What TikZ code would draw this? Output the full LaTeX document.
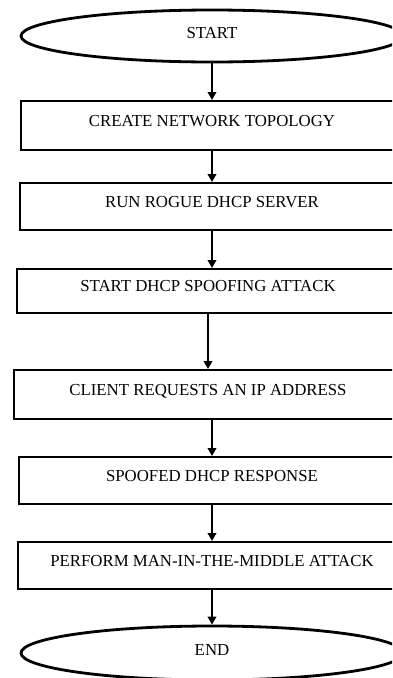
\documentclass[tikz,border=0pt]{standalone}
\usepackage{fontspec}
\setmainfont{Liberation Serif}
\usetikzlibrary{arrows.meta,shapes.geometric}
\begin{document}
\begin{tikzpicture}[x=1pt,y=-1pt,
  txt/.style={font=\fontsize{16.8}{19}\selectfont},
  stepbox/.style={txt,draw,line width=2pt,rectangle,inner sep=0pt,text height=7pt,text depth=5.8pt},
  term/.style={txt,draw,ellipse,line width=2.8pt,inner sep=0pt,text height=8pt,text depth=3.6pt},
  arr/.style={line width=2pt,-{Triangle[length=8pt,width=8.5pt]}}]
\useasboundingbox (0,0) rectangle (392,678);
\clip (0,0) rectangle (392,678);
\fill[white] (0,0) rectangle (392,678);
\node[term,minimum width=382pt,minimum height=52pt] (start) at (212,36) {START};
\node[stepbox,minimum width=382pt,minimum height=49pt] (b1) at (212,125.5) {CREATE NETWORK TOPOLOGY};
\node[stepbox,minimum width=384pt,minimum height=47pt] (b2) at (212,206.5) {RUN ROGUE DHCP SERVER};
\node[stepbox,minimum width=382pt,minimum height=44pt] (b3) at (208,291) {START DHCP SPOOFING ATTACK};
\node[stepbox,minimum width=388pt,minimum height=49pt] (b4) at (208,394.5) {CLIENT REQUESTS AN IP ADDRESS};
\node[stepbox,minimum width=386pt,minimum height=47pt] (b5) at (212,480.5) {SPOOFED DHCP RESPONSE};
\node[stepbox,minimum width=388pt,minimum height=47pt] (b6) at (212,565.5) {PERFORM MAN-IN-THE-MIDDLE ATTACK};
\node[term,minimum width=382pt,minimum height=54pt] (end) at (212,653) {END};
\draw[arr] (start.south) -- (b1.north);
\draw[arr] (b1.south) -- (b2.north);
\draw[arr] (b2.south) -- (b2.south |- b3.north);
\draw[arr] (b3.south) -- (b4.north);
\draw[arr] (b4.south -| b5.north) -- (b5.north);
\draw[arr] (b5.south) -- (b6.north);
\draw[arr] (b6.south) -- (end.north);
\end{tikzpicture}
\end{document}
